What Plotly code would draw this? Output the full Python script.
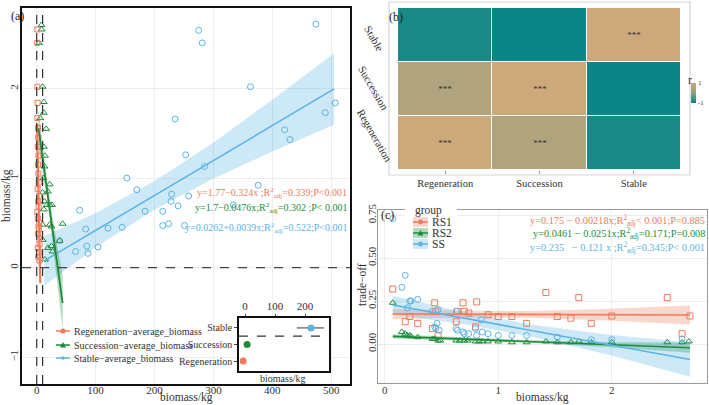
import plotly.graph_objects as go

W, H = 709, 405
def fx(px): return px / W
def fy(py): return 1 - py / H

SERIF = "Liberation Serif"
RED = "#F07A5A"; GREEN = "#1C8C3C"; BLUE = "#5BB4E4"
REDF = "rgba(240,122,90,0.30)"; GREENF = "rgba(40,150,70,0.35)"; BLUEF = "rgba(91,180,228,0.30)"

# ---------------- Panel (a) data ----------------
reg_x = [1.0, 0.8, 1.2, 1.5, 1.0, 2.0, 2.5, 1.8, 3.0, 2.2, 2.8, 3.5, 1.5, 4.0, 2.5, 3.2, 1.0, 2.0, 4.5, 3.0, 3.8, 2.4, 4.2, 5.0, 1.8, 3.6, 2.6, 4.8]
reg_y = [2.66, 2.51, 2.02, 1.84, 1.67, 1.56, 1.45, 1.35, 1.25, 1.15, 1.05, 0.95, 0.88, 0.80, 0.74, 0.68, 0.62, 0.55, 0.50, 0.46, 0.43, 0.38, 0.32, 0.26, 0.22, 0.17, 0.12, 0.08]
suc_x = [8, 8.5, 4, 10, 12, 12, 6, 16, 12, 14, 11, 13, 22, 19, 22, 26, 10, 13, 12, 17, 22, 25, 44, 10, 39, 25, 27, 19, 10, 14]
suc_y = [2.71, 2.66, 2.51, 2.02, 1.85, 1.73, 1.67, 1.55, 1.35, 1.25, 1.0, 1.13, 0.93, 0.85, 0.70, 0.70, 0.84, 0.74, 0.65, 0.70, 0.48, 0.46, 0.49, 0.48, 0.30, 0.24, 0.18, 0.22, 0.31, 0.09]
sta_x = [275, 281, 474, 363, 507, 490, 421, 430, 235, 253, 285, 153, 170, 229, 258, 376, 73, 83, 121, 145, 184, 214, 214, 224, 228, 240, 251, 334, 66, 85, 87, 104, 39]
sta_y = [2.65, 2.51, 2.72, 2.02, 1.84, 1.73, 1.54, 1.43, 1.66, 1.26, 1.13, 1.0, 0.87, 0.82, 0.80, 0.92, 0.64, 0.43, 0.44, 0.45, 0.63, 0.63, 0.47, 0.49, 0.74, 0.69, 0.47, 0.70, 0.18, 0.24, 0.16, 0.23, 0.30]

reg_fit = (1.77, -0.324); reg_ci_x = [0.5, 3.0, 6.0]; reg_ci_hw = [0.12, 0.06, 0.12]
suc_fit = (1.7, -0.0476); suc_ci_x = [3, 15, 25, 44]; suc_ci_hw = [0.22, 0.12, 0.12, 0.3]
sta_fit = (0.0262, 0.0039); sta_ci_x = [13, 100, 200, 300, 400, 505]; sta_ci_hw = [0.28, 0.19, 0.16, 0.2, 0.29, 0.4]

mean_lines_x = [0, 10]
legend_a = ["Regeneration−average_biomass", "Succession−average_biomass", "Stable−average_biomass"]

inset_groups = ["Regeneration", "Succession", "Stable"]
inset_mean = [-6, 7, 220]
inset_err_lo = [0, 0, 47]
inset_err_hi = [0, 0, 43]

eq_a = ["y=1.77−0.324x ;R<sup>2</sup><sub>adj</sub>=0.339;P&lt;0.001",
        "y=1.7−0.0476x;R<sup>2</sup><sub>adj</sub>=0.302 ;P&lt; 0.001",
        "y=0.0262+0.0039x;R<sup>2</sup><sub>adj</sub>=0.522;P&lt;0.001"]

# ---------------- Panel (b) data ----------------
hm_labels = ["Regeneration", "Succession", "Stable"]
hm_r = [[1.0, 0.55, -0.85],
        [0.55, 1.0, -0.97],
        [-0.85, -0.97, 1.0]]
hm_sig = [["***", "***", ""],
          ["***", "***", ""],
          ["", "", "***"]]

# ---------------- Panel (c) data ----------------
rs1_x = [0.07, 0.18, 0.22, 0.29, 0.42, 0.44, 0.45, 0.47, 0.63, 0.64, 0.69, 0.70, 0.74, 0.80, 0.81, 0.91, 1.0, 1.12, 1.25, 1.42, 1.52, 1.64, 1.71, 1.82, 2.0, 2.49, 2.62, 2.69]
rs1_y = [0.32, 0.13, 0.16, 0.12, 0.09, 0.24, 0.19, 0.05, 0.13, 0.19, 0.24, 0.19, 0.18, 0.10, 0.245, 0.17, 0.16, 0.16, 0.12, 0.30, 0.16, 0.15, 0.27, 0.12, 0.163, 0.27, 0.06, 0.163]
rs2_x = [0.07, 0.15, 0.18, 0.20, 0.22, 0.23, 0.29, 0.42, 0.44, 0.47, 0.49, 0.63, 0.66, 0.70, 0.73, 0.80, 0.83, 0.86, 0.91, 1.0, 1.12, 1.25, 1.42, 1.52, 1.64, 1.71, 1.82, 2.0, 2.49, 2.62, 2.68]
rs2_y = [0.24, 0.07, 0.06, 0.05, 0.05, 0.045, 0.04, 0.03, 0.03, 0.02, 0.02, 0.02, 0.02, 0.02, 0.02, 0.015, 0.015, 0.015, 0.015, 0.015, 0.01, 0.01, 0.015, 0.01, 0.01, 0.015, 0.01, 0.01, 0.01, 0.01, 0.015]
ss_x = [0.07, 0.15, 0.18, 0.20, 0.22, 0.23, 0.29, 0.42, 0.44, 0.45, 0.46, 0.48, 0.63, 0.64, 0.69, 0.70, 0.74, 0.80, 0.81, 0.86, 0.91, 1.0, 1.12, 1.25, 1.52, 1.82, 2.0, 2.62, 0.47, 0.63, 0.85]
ss_y = [0.73, 0.33, 0.40, 0.21, 0.25, 0.25, 0.26, 0.19, 0.10, 0.09, 0.12, 0.08, 0.09, 0.08, 0.07, 0.06, 0.06, 0.09, 0.05, 0.07, 0.06, 0.05, 0.05, 0.05, 0.04, 0.025, 0.025, 0.03, 0.20, 0.19, 0.14]

rs1_fit = (0.175, -0.00218); rs2_fit = (0.0461, -0.0251); ss_fit = (0.235, -0.121)
c_ci_x = [0.07, 0.7, 1.3, 2.0, 2.69]
rs1_hw = [0.03, 0.02, 0.02, 0.035, 0.055]
rs2_hw = [0.012, 0.008, 0.008, 0.015, 0.03]
ss_hw = [0.055, 0.035, 0.035, 0.06, 0.1]
legend_c = ["RS1", "RS2", "SS"]

eq_c = ["y=0.175 − 0.00218x;R<sup>2</sup><sub>adj</sub>&lt; 0.001;P=0.885",
        "y=0.0461 − 0.0251x;R<sup>2</sup><sub>adj</sub>=0.171;P=0.008",
        "y=0.235   − 0.121 x ;R<sup>2</sup><sub>adj</sub>=0.345;P&lt; 0.001"]

fig = go.Figure()

def band(xs, hw, fit, color, xa, ya):
    up = [fit[0] + fit[1] * x + h for x, h in zip(xs, hw)]
    lo = [fit[0] + fit[1] * x - h for x, h in zip(xs, hw)]
    fig.add_trace(go.Scatter(x=list(xs) + list(xs)[::-1], y=up + lo[::-1], fill="toself",
                             fillcolor=color, line=dict(width=0), mode="lines",
                             hoverinfo="skip", showlegend=False, xaxis=xa, yaxis=ya))

def fitline(xs, fit, color, xa, ya, w=1.8):
    x0, x1 = xs[0], xs[-1]
    fig.add_trace(go.Scatter(x=[x0, x1], y=[fit[0] + fit[1] * x0, fit[0] + fit[1] * x1],
                             mode="lines", line=dict(color=color, width=w),
                             showlegend=False, xaxis=xa, yaxis=ya))

# Panel (a)
band(sta_ci_x, sta_ci_hw, sta_fit, BLUEF, "x", "y")
band(suc_ci_x, suc_ci_hw, suc_fit, GREENF, "x", "y")
band(reg_ci_x, reg_ci_hw, reg_fit, REDF, "x", "y")
fig.add_trace(go.Scatter(x=sta_x, y=sta_y, mode="markers", showlegend=False,
                         marker=dict(symbol="circle-open", size=6, color=BLUE, line=dict(width=1)), xaxis="x", yaxis="y"))
fig.add_trace(go.Scatter(x=suc_x, y=suc_y, mode="markers", showlegend=False,
                         marker=dict(symbol="triangle-up-open", size=6, color=GREEN, line=dict(width=1)), xaxis="x", yaxis="y"))
fig.add_trace(go.Scatter(x=reg_x, y=reg_y, mode="markers", showlegend=False,
                         marker=dict(symbol="square-open", size=5, color=RED, line=dict(width=1)), xaxis="x", yaxis="y"))
fitline(sta_ci_x, sta_fit, BLUE, "x", "y", 1.5)
fitline(suc_ci_x, suc_fit, GREEN, "x", "y", 1.8)
fitline(reg_ci_x, reg_fit, RED, "x", "y", 2.2)

# inset
fig.add_trace(go.Scatter(x=inset_mean, y=[1, 2, 3], mode="markers", showlegend=False,
                         marker=dict(color=[RED, GREEN, BLUE], size=7),
                         error_x=dict(type="data", symmetric=False, array=inset_err_hi, arrayminus=inset_err_lo,
                                      color="#333", thickness=1, width=0),
                         xaxis="x4", yaxis="y4"))

# Panel (b)
fig.add_trace(go.Heatmap(z=hm_r, x=hm_labels, y=hm_labels, zmin=-1, zmax=1, xgap=1, ygap=1,
                         colorscale=[[0, "#058585"], [0.5, "#8da083"], [1, "#CDA87B"]],
                         text=hm_sig, texttemplate="%{text}", textfont=dict(size=9, color="#333", family=SERIF),
                         colorbar=dict(thickness=5, len=20 / H, x=fx(691), xanchor="left",
                                       y=fy(83), yanchor="top", outlinewidth=0, xpad=0, ypad=0,
                                       tickvals=[-1, 1], ticktext=["-1", "1"], ticks="",
                                       tickfont=dict(size=7, family=SERIF)),
                         xaxis="x2", yaxis="y2"))

# Panel (c)
band(c_ci_x, rs1_hw, rs1_fit, REDF, "x3", "y3")
band(c_ci_x, rs2_hw, rs2_fit, GREENF, "x3", "y3")
band(c_ci_x, ss_hw, ss_fit, BLUEF, "x3", "y3")
fig.add_trace(go.Scatter(x=rs1_x, y=rs1_y, mode="markers", showlegend=False,
                         marker=dict(symbol="square-open", size=6, color=RED, line=dict(width=1)), xaxis="x3", yaxis="y3"))
fig.add_trace(go.Scatter(x=rs2_x, y=rs2_y, mode="markers", showlegend=False,
                         marker=dict(symbol="triangle-up-open", size=6, color=GREEN, line=dict(width=1)), xaxis="x3", yaxis="y3"))
fig.add_trace(go.Scatter(x=ss_x, y=ss_y, mode="markers", showlegend=False,
                         marker=dict(symbol="circle-open", size=6, color=BLUE, line=dict(width=1)), xaxis="x3", yaxis="y3"))
fitline(c_ci_x, rs1_fit, RED, "x3", "y3", 1.6)
fitline(c_ci_x, rs2_fit, GREEN, "x3", "y3", 1.6)
fitline(c_ci_x, ss_fit, BLUE, "x3", "y3", 1.6)

grid = "#EDEDED"
tf = dict(family=SERIF, size=11, color="#333")
tfs = dict(family=SERIF, size=10, color="#333")
layout = dict(
    template="none",
    width=W, height=H, margin=dict(l=0, r=0, t=0, b=0, autoexpand=False),
    paper_bgcolor="white", plot_bgcolor="white", showlegend=False,
    font=dict(family=SERIF, size=12, color="#333"),
    xaxis=dict(domain=[fx(22), fx(350)], range=[-25, 532], tickvals=[0, 100, 200, 300, 400, 500],
               showgrid=True, gridcolor=grid, zeroline=False, showline=True, mirror=True, automargin=False,
               linecolor="#111", linewidth=2, ticks="", tickfont=tf, ticklabelstandoff=-5, anchor="y"),
    yaxis=dict(domain=[fy(384), fy(8)], range=[-1.3, 2.9], tickvals=[-1, 0, 1, 2], tickangle=-90,
               showgrid=True, gridcolor=grid, zeroline=False, showline=True, mirror=True, automargin=False,
               linecolor="#111", linewidth=2, ticks="", tickfont=tf, ticklabelstandoff=-2, anchor="x"),
    xaxis2=dict(domain=[fx(398), fx(681)], anchor="y2", showgrid=False, ticks="outside", ticklen=3,
                automargin=False, zeroline=False,
                tickcolor="#999", tickfont=dict(family=SERIF, size=10.5, color="#333")),
    yaxis2=dict(domain=[fy(170), fy(8)], anchor="x2", showgrid=False, showticklabels=False, ticks="",
                automargin=False, zeroline=False),
    xaxis3=dict(domain=[fx(378), fx(707)], range=[-0.06, 2.84], tickvals=[0, 1, 2], anchor="y3",
                showgrid=True, gridcolor=grid, zeroline=False, showline=True, mirror=True, automargin=False,
                linecolor="#999", linewidth=1.2, ticks="", tickfont=tf, ticklabelstandoff=-3),
    yaxis3=dict(domain=[fy(383), fy(210)], range=[-0.227, 0.78], tickvals=[0, 0.25, 0.5, 0.75],
                ticktext=["0.00", "0.25", "0.50", "0.75"], tickangle=-90, anchor="x3", automargin=False,
                showgrid=True, gridcolor=grid, zeroline=False, showline=True, mirror=True,
                linecolor="#999", linewidth=1.2, ticks="", tickfont=tf, ticklabelstandoff=-3),
    xaxis4=dict(domain=[fx(239), fx(329)], range=[-20, 280], tickvals=[0, 100, 200], side="top",
                anchor="y4", showgrid=False, zeroline=False, showline=True, mirror=True, automargin=False,
                linecolor="#111", linewidth=1.5, ticks="outside", ticklen=2, tickfont=tf),
    yaxis4=dict(domain=[fy(371), fy(318)], range=[0.4, 3.6], tickvals=[1, 2, 3], ticktext=inset_groups,
                anchor="x4", showgrid=False, zeroline=False, showline=True, mirror=True, automargin=False,
                linecolor="#111", linewidth=1.5, ticks="outside", ticklen=3, tickfont=tfs),
)
fig.update_layout(**layout)

shapes = []
for xv in mean_lines_x:
    shapes.append(dict(type="line", xref="x", yref="y domain", x0=xv, x1=xv, y0=0, y1=1,
                       line=dict(color="#333", width=1.2, dash="dash")))
shapes.append(dict(type="line", xref="x domain", yref="y", x0=0, x1=1, y0=0, y1=0,
                   line=dict(color="#444", width=1.2, dash="dash")))
shapes.append(dict(type="rect", xref="x4 domain", yref="y4 domain", x0=0, x1=1, y0=0, y1=1,
                   fillcolor="white", line=dict(width=0), layer="below"))
shapes.append(dict(type="line", xref="x4 domain", yref="y4", x0=0, x1=1, y0=2.5, y1=2.5,
                   line=dict(color="#333", width=1.2, dash="dash")))
shapes.append(dict(type="rect", xref="paper", yref="paper", x0=fx(389), x1=fx(690), y0=fy(175), y1=fy(2),
                   line=dict(color="#D5D5D5", width=1.2), fillcolor="rgba(0,0,0,0)"))

def marker_shape(sym, cx, cy, col, r=2.6):
    if sym == "circle":
        return dict(type="circle", xref="paper", yref="paper", x0=fx(cx - r), x1=fx(cx + r),
                    y0=fy(cy + r), y1=fy(cy - r), fillcolor=col, line=dict(width=0))
    p = "M {:.5f},{:.5f} L {:.5f},{:.5f} L {:.5f},{:.5f} Z".format(
        fx(cx), fy(cy - r - 0.5), fx(cx - r - 0.5), fy(cy + r), fx(cx + r + 0.5), fy(cy + r))
    return dict(type="path", xref="paper", yref="paper", path=p, fillcolor=col, line=dict(width=0))

ann = []
# legend (a)
for nm, col, sym, py in zip(legend_a, [RED, GREEN, BLUE], ["circle", "triangle", "circle"], [331, 345, 358]):
    shapes.append(dict(type="line", xref="paper", yref="paper", x0=fx(56), x1=fx(70), y0=fy(py), y1=fy(py),
                       line=dict(color=col, width=1.5)))
    shapes.append(marker_shape(sym, 63, py, col, 2.6 if nm != legend_a[2] else 1.8))
    ann.append(dict(text=nm, x=fx(72), y=fy(py), xref="paper", yref="paper", xanchor="left", yanchor="middle",
                    showarrow=False, font=dict(family=SERIF, size=10, color="#333")))
# legend (c)
shapes.append(dict(type="rect", xref="paper", yref="paper", x0=fx(405), x1=fx(457), y0=fy(251), y1=fy(203),
                   fillcolor="white", line=dict(width=0)))
ann.append(dict(text="group", x=fx(413), y=fy(210), xref="paper", yref="paper", xanchor="left", yanchor="middle",
                showarrow=False, font=dict(family=SERIF, size=11.5, color="#333")))
for nm, col, fcol, sym, py in zip(legend_c, [RED, GREEN, BLUE], [REDF, GREENF, BLUEF],
                                  ["circle", "triangle", "circle"], [222, 233, 244]):
    shapes.append(dict(type="rect", xref="paper", yref="paper", x0=fx(413), x1=fx(428), y0=fy(py + 5), y1=fy(py - 5),
                       fillcolor=fcol, line=dict(width=0)))
    shapes.append(dict(type="line", xref="paper", yref="paper", x0=fx(413), x1=fx(428), y0=fy(py), y1=fy(py),
                       line=dict(color=col, width=1.5)))
    shapes.append(marker_shape(sym, 420.5, py, col, 2.4))
    ann.append(dict(text=nm, x=fx(430), y=fy(py), xref="paper", yref="paper", xanchor="left", yanchor="middle",
                    showarrow=False, font=dict(family=SERIF, size=11.5, color="#333")))
fig.update_layout(shapes=shapes)

for t, c, py in zip(eq_a, [RED, GREEN, BLUE], [193, 208, 228]):
    ann.append(dict(text=t, x=fx(349), y=fy(py), xref="paper", yref="paper", xanchor="right", yanchor="middle",
                    showarrow=False, font=dict(family=SERIF, size=10, color=c)))
for t, c, py in zip(eq_c, [RED, GREEN, BLUE], [221, 234, 248]):
    ann.append(dict(text=t, x=fx(707), y=fy(py), xref="paper", yref="paper", xanchor="right", yanchor="middle",
                    showarrow=False, font=dict(family=SERIF, size=10.3, color=c)))
# heatmap row labels (slanted)
for lab, px, py in zip(hm_labels, [375, 373.5, 374.5], [136, 88, 39]):
    ann.append(dict(text=lab, x=fx(px), y=fy(py), xref="paper", yref="paper", textangle=60, showarrow=False,
                    xanchor="center", yanchor="middle", font=dict(family=SERIF, size=11, color="#333")))
# axis titles
titles = [("biomass/kg", 186, 397, 0), ("biomass/kg", 6, 196, -90), ("biomass/kg", 542, 397, 0),
          ("trade−off", 362, 285, -90), ("biomass/kg", 283, 378, 0)]
for t, px, py, ang in titles:
    ann.append(dict(text=t, x=fx(px), y=fy(py), xref="paper", yref="paper", textangle=ang, showarrow=False,
                    xanchor="center", yanchor="middle",
                    font=dict(family=SERIF, size=10 if py == 378 else 11.5, color="#333")))
ann.append(dict(text="r", x=fx(694), y=fy(71), xref="paper", yref="paper", showarrow=False,
                font=dict(family=SERIF, size=12, color="#333")))
for t, px, py in [("(a)", 9, 7), ("(b)", 396, 8), ("(c)", 387, 215)]:
    ann.append(dict(text=t, x=fx(px), y=fy(py), xref="paper", yref="paper", showarrow=False,
                    font=dict(family=SERIF, size=12, color="#222")))
fig.update_layout(annotations=ann)

fig.write_html("out.html")
